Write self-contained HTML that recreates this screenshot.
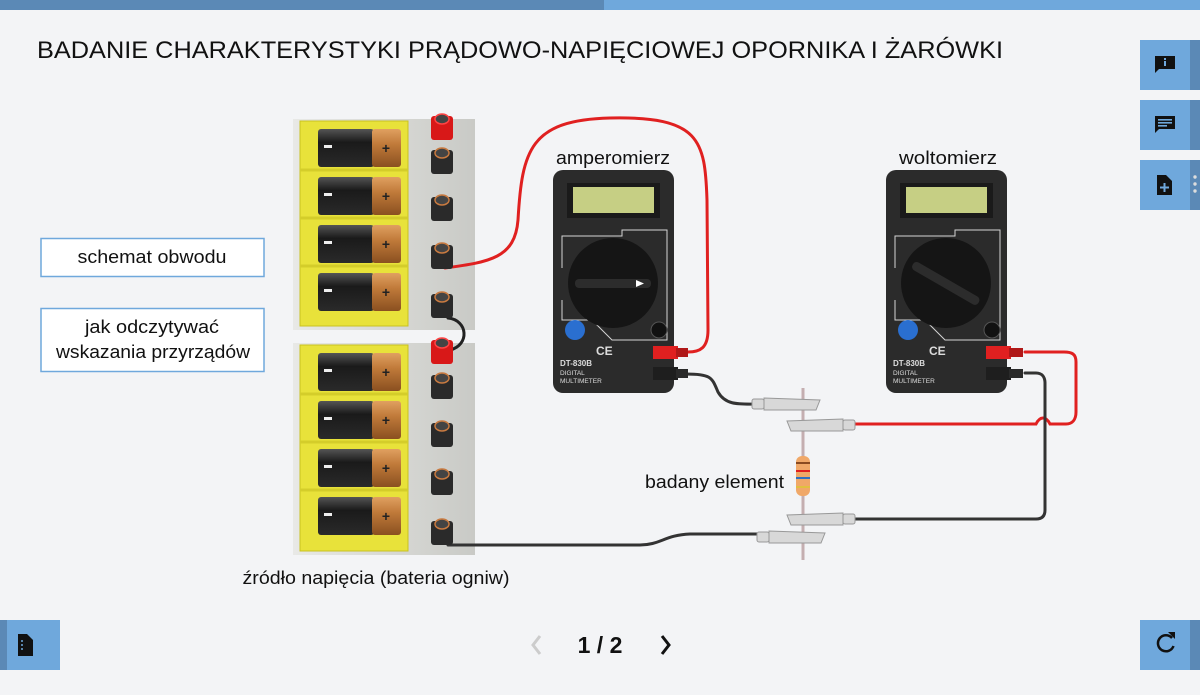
<!DOCTYPE html>
<html><head><meta charset="utf-8"><style>
body{margin:0;width:1200px;height:690px;background:#f3f4f6;overflow:hidden;font-family:"Liberation Sans",sans-serif}
</style></head><body>
<svg width="1200" height="690" viewBox="0 0 1200 690" xmlns="http://www.w3.org/2000/svg" font-family="Liberation Sans, sans-serif">
<defs>
<linearGradient id="bat" x1="0" y1="0" x2="0" y2="1"><stop offset="0" stop-color="#555"/><stop offset=".35" stop-color="#1a1a1a"/><stop offset="1" stop-color="#2a2a2a"/></linearGradient>
<linearGradient id="cop" x1="0" y1="0" x2="0" y2="1"><stop offset="0" stop-color="#e0a060"/><stop offset=".4" stop-color="#c07a3a"/><stop offset="1" stop-color="#8a5020"/></linearGradient>
<linearGradient id="pan" x1="0" y1="0" x2="1" y2="0"><stop offset="0" stop-color="#e8e9e6"/><stop offset="1" stop-color="#c9cac6"/></linearGradient>
</defs>
<rect x="0" y="0" width="604" height="10" fill="#5b89b6"/>
<rect x="604" y="0" width="596" height="10" fill="#6fa8dc"/>
<text x="37" y="58" font-size="24" fill="#111" textLength="966" lengthAdjust="spacingAndGlyphs">BADANIE CHARAKTERYSTYKI PRĄDOWO-NAPIĘCIOWEJ OPORNIKA I ŻARÓWKI</text>

<!-- side buttons -->
<g><rect x="1140" y="40" width="50" height="50" fill="#6fa8dc"/><rect x="1190" y="40" width="10" height="50" fill="#5b89b6"/>
<path d="M1155 56h20v13h-16l-4 4z" fill="#111"/><rect x="1164" y="58" width="2" height="2" fill="#6fa8dc"/><rect x="1164" y="61" width="2" height="5" fill="#6fa8dc"/></g>
<g><rect x="1140" y="100" width="50" height="50" fill="#6fa8dc"/><rect x="1190" y="100" width="10" height="50" fill="#5b89b6"/>
<path d="M1155 116h20v13h-16l-4 4z" fill="#111"/><rect x="1158" y="119" width="14" height="1.6" fill="#6fa8dc"/><rect x="1158" y="122" width="14" height="1.6" fill="#6fa8dc"/><rect x="1158" y="125" width="9" height="1.6" fill="#6fa8dc"/></g>
<g><rect x="1140" y="160" width="50" height="50" fill="#6fa8dc"/><rect x="1190" y="160" width="10" height="50" fill="#5b89b6"/>
<path d="M1157 175h9l6 6v14h-15z" fill="#111"/><path d="M1164.5 183v9M1160 187.5h9" stroke="#6fa8dc" stroke-width="2"/>
<circle cx="1195" cy="177" r="1.7" fill="#ddd"/><circle cx="1195" cy="184" r="1.7" fill="#ddd"/><circle cx="1195" cy="191" r="1.7" fill="#ddd"/></g>
<g><rect x="0" y="620" width="60" height="50" fill="#6fa8dc"/><rect x="0" y="620" width="7" height="50" fill="#5b89b6"/>
<path d="M18 634h9l6 6v16h-15z" fill="#111"/><circle cx="22" cy="641" r="1" fill="#6fa8dc"/><circle cx="22" cy="645" r="1" fill="#6fa8dc"/><circle cx="22" cy="649" r="1" fill="#6fa8dc"/></g>
<g><rect x="1140" y="620" width="50" height="50" fill="#6fa8dc"/><rect x="1190" y="620" width="10" height="50" fill="#5b89b6"/>
<path d="M1172 638a8 8 0 1 0 1.5 8" fill="none" stroke="#111" stroke-width="2.5"/><path d="M1168 632h7v7z" fill="#111"/></g>

<text x="600" y="653" font-size="23" font-weight="bold" text-anchor="middle" fill="#111">1 / 2</text>
<path d="M540 636l-7 9 7 9" fill="none" stroke="#ccc" stroke-width="3"/>
<path d="M662 636l7 9-7 9" fill="none" stroke="#111" stroke-width="3"/>

<!-- buttons left -->
<rect x="41" y="238.5" width="223" height="38" fill="#fff" stroke="#6fa8dc" stroke-width="1.5"/>
<text x="152" y="263" font-size="18" text-anchor="middle" fill="#111" textLength="149" lengthAdjust="spacingAndGlyphs">schemat obwodu</text>
<rect x="41" y="308.5" width="223" height="63" fill="#fff" stroke="#6fa8dc" stroke-width="1.5"/>
<text x="152" y="333" font-size="18" text-anchor="middle" fill="#111" textLength="134" lengthAdjust="spacingAndGlyphs">jak odczytywać</text>
<text x="153" y="358" font-size="18" text-anchor="middle" fill="#111" textLength="194" lengthAdjust="spacingAndGlyphs">wskazania przyrządów</text>

<!-- battery panels -->
<rect x="293" y="119" width="182" height="211" fill="url(#pan)"/>
<rect x="293" y="343" width="182" height="212" fill="url(#pan)"/>
<g fill="#e8e23a" stroke="#c9c220" stroke-width="1">
<rect x="300" y="121" width="108" height="205"/><rect x="300" y="345" width="108" height="206"/>
</g>
<g stroke="#d4cd2a" stroke-width="3">
<path d="M300 170h108M300 218h108M300 266h108M300 394h108M300 442h108M300 490h108"/>
</g>
<!-- batteries -->
<g><rect x="318" y="129" width="56" height="38" rx="3" fill="url(#bat)"/><rect x="372" y="129" width="29" height="38" rx="3" fill="url(#cop)"/><rect x="324" y="145" width="8" height="3" fill="#eee"/><text x="386" y="153" font-size="14" font-weight="bold" fill="#222" text-anchor="middle">+</text></g>
<g transform="translate(0,48)"><rect x="318" y="129" width="56" height="38" rx="3" fill="url(#bat)"/><rect x="372" y="129" width="29" height="38" rx="3" fill="url(#cop)"/><rect x="324" y="145" width="8" height="3" fill="#eee"/><text x="386" y="153" font-size="14" font-weight="bold" fill="#222" text-anchor="middle">+</text></g>
<g transform="translate(0,96)"><rect x="318" y="129" width="56" height="38" rx="3" fill="url(#bat)"/><rect x="372" y="129" width="29" height="38" rx="3" fill="url(#cop)"/><rect x="324" y="145" width="8" height="3" fill="#eee"/><text x="386" y="153" font-size="14" font-weight="bold" fill="#222" text-anchor="middle">+</text></g>
<g transform="translate(0,144)"><rect x="318" y="129" width="56" height="38" rx="3" fill="url(#bat)"/><rect x="372" y="129" width="29" height="38" rx="3" fill="url(#cop)"/><rect x="324" y="145" width="8" height="3" fill="#eee"/><text x="386" y="153" font-size="14" font-weight="bold" fill="#222" text-anchor="middle">+</text></g>
<g transform="translate(0,224)"><rect x="318" y="129" width="56" height="38" rx="3" fill="url(#bat)"/><rect x="372" y="129" width="29" height="38" rx="3" fill="url(#cop)"/><rect x="324" y="145" width="8" height="3" fill="#eee"/><text x="386" y="153" font-size="14" font-weight="bold" fill="#222" text-anchor="middle">+</text></g>
<g transform="translate(0,272)"><rect x="318" y="129" width="56" height="38" rx="3" fill="url(#bat)"/><rect x="372" y="129" width="29" height="38" rx="3" fill="url(#cop)"/><rect x="324" y="145" width="8" height="3" fill="#eee"/><text x="386" y="153" font-size="14" font-weight="bold" fill="#222" text-anchor="middle">+</text></g>
<g transform="translate(0,320)"><rect x="318" y="129" width="56" height="38" rx="3" fill="url(#bat)"/><rect x="372" y="129" width="29" height="38" rx="3" fill="url(#cop)"/><rect x="324" y="145" width="8" height="3" fill="#eee"/><text x="386" y="153" font-size="14" font-weight="bold" fill="#222" text-anchor="middle">+</text></g>
<g transform="translate(0,368)"><rect x="318" y="129" width="56" height="38" rx="3" fill="url(#bat)"/><rect x="372" y="129" width="29" height="38" rx="3" fill="url(#cop)"/><rect x="324" y="145" width="8" height="3" fill="#eee"/><text x="386" y="153" font-size="14" font-weight="bold" fill="#222" text-anchor="middle">+</text></g>

<!-- wires -->
<g fill="none" stroke-linecap="round">
<path d="M445 268 C490 262 515 258 518 220 C522 150 530 120 610 118 C700 116 705 140 707 200 L708 330 C708 348 700 352 688 352" stroke="#e02020" stroke-width="3"/>
<path d="M448 318 C468 320 470 345 450 350" stroke="#222" stroke-width="3"/>
<path d="M448 545 L640 545 C660 545 665 535 690 534 L760 534" stroke="#333" stroke-width="3"/>
<path d="M686 374 C712 374 712 378 718 392 C726 406 740 404 760 404" stroke="#333" stroke-width="3"/>
<path d="M855 424 L1036 424 C1040 416 1046 416 1050 424 L1066 424 C1072 424 1076 420 1076 412 L1076 362 C1076 354 1072 352 1064 352 L1025 352" stroke="#e02020" stroke-width="3"/>
<path d="M1025 373 L1036 373 C1042 373 1045 377 1045 383 L1045 510 C1045 516 1042 519 1036 519 L855 519" stroke="#333" stroke-width="3"/>
</g>

<!-- terminals -->
<g>
<rect x="431" y="116" width="22" height="24" rx="3" fill="#d81818"/><ellipse cx="442" cy="119" rx="7" ry="5" fill="#444" stroke="#f44" stroke-width="1.5"/>
<rect x="431" y="150" width="22" height="24" rx="3" fill="#2a2a2a"/><ellipse cx="442" cy="153" rx="7" ry="5" fill="#444" stroke="#c87a40" stroke-width="1.5"/>
<rect x="431" y="197" width="22" height="24" rx="3" fill="#2a2a2a"/><ellipse cx="442" cy="200" rx="7" ry="5" fill="#444" stroke="#c87a40" stroke-width="1.5"/>
<rect x="431" y="245" width="22" height="24" rx="3" fill="#2a2a2a"/><ellipse cx="442" cy="248" rx="7" ry="5" fill="#444" stroke="#c87a40" stroke-width="1.5"/>
<rect x="431" y="294" width="22" height="24" rx="3" fill="#2a2a2a"/><ellipse cx="442" cy="297" rx="7" ry="5" fill="#444" stroke="#c87a40" stroke-width="1.5"/>
<rect x="431" y="340" width="22" height="24" rx="3" fill="#d81818"/><ellipse cx="442" cy="343" rx="7" ry="5" fill="#444" stroke="#f44" stroke-width="1.5"/>
<rect x="431" y="375" width="22" height="24" rx="3" fill="#2a2a2a"/><ellipse cx="442" cy="378" rx="7" ry="5" fill="#444" stroke="#c87a40" stroke-width="1.5"/>
<rect x="431" y="423" width="22" height="24" rx="3" fill="#2a2a2a"/><ellipse cx="442" cy="426" rx="7" ry="5" fill="#444" stroke="#c87a40" stroke-width="1.5"/>
<rect x="431" y="471" width="22" height="24" rx="3" fill="#2a2a2a"/><ellipse cx="442" cy="474" rx="7" ry="5" fill="#444" stroke="#c87a40" stroke-width="1.5"/>
<rect x="431" y="521" width="22" height="24" rx="3" fill="#2a2a2a"/><ellipse cx="442" cy="524" rx="7" ry="5" fill="#444" stroke="#c87a40" stroke-width="1.5"/>
</g>

<!-- multimeter 1 -->
<g>
<rect x="553" y="170" width="121" height="223" rx="10" fill="#2b2b2b"/>
<rect x="567" y="183" width="93" height="35" fill="#1a1a1a"/><rect x="573" y="187" width="81" height="26" fill="#c6cf84"/>
<path d="M562 268V236h60v-6h45v55M562 300v20h30l20 20h55v-60" fill="none" stroke="#fff" stroke-width="1" opacity=".8"/>
<circle cx="613" cy="283" r="45" fill="#151515"/><rect x="575" y="279" width="76" height="9" rx="4" fill="#2c2c2c"/><path d="M636 280l8 3.5-8 3.5z" fill="#fff"/>
<circle cx="575" cy="330" r="10" fill="#2a6fd0"/><circle cx="659" cy="330" r="8" fill="#111" stroke="#555"/>
<text x="560" y="366" font-size="8" font-weight="bold" fill="#ddd">DT-830B</text>
<text x="560" y="375" font-size="6.5" fill="#ddd">DIGITAL</text><text x="560" y="383" font-size="6.5" fill="#ddd">MULTIMETER</text>
<text x="596" y="355" font-size="12" font-weight="bold" fill="#ddd">CE</text>
</g>
<rect x="653" y="346" width="25" height="13" fill="#e02020"/><rect x="676" y="348" width="12" height="9" fill="#b01818"/>
<rect x="653" y="367" width="25" height="13" fill="#1e1e1e"/><rect x="676" y="369" width="12" height="9" fill="#2a2a2a"/>
<!-- multimeter 2 -->
<g>
<rect x="886" y="170" width="121" height="223" rx="10" fill="#2b2b2b"/>
<rect x="900" y="183" width="93" height="35" fill="#1a1a1a"/><rect x="906" y="187" width="81" height="26" fill="#c6cf84"/>
<path d="M895 268V236h60v-6h45v55M895 300v20h30l20 20h55v-60" fill="none" stroke="#fff" stroke-width="1" opacity=".8"/>
<circle cx="946" cy="283" r="45" fill="#151515"/><rect x="908" y="279" width="76" height="9" rx="4" fill="#2c2c2c" transform="rotate(30 946 283)"/>
<circle cx="908" cy="330" r="10" fill="#2a6fd0"/><circle cx="992" cy="330" r="8" fill="#111" stroke="#555"/>
<text x="893" y="366" font-size="8" font-weight="bold" fill="#ddd">DT-830B</text>
<text x="893" y="375" font-size="6.5" fill="#ddd">DIGITAL</text><text x="893" y="383" font-size="6.5" fill="#ddd">MULTIMETER</text>
<text x="929" y="355" font-size="12" font-weight="bold" fill="#ddd">CE</text>
</g>
<rect x="986" y="346" width="25" height="13" fill="#e02020"/><rect x="1009" y="348" width="14" height="9" fill="#b01818"/>
<rect x="986" y="367" width="25" height="13" fill="#1e1e1e"/><rect x="1009" y="369" width="14" height="9" fill="#2a2a2a"/>

<text x="613" y="164" font-size="18" text-anchor="middle" fill="#111" textLength="114" lengthAdjust="spacingAndGlyphs">amperomierz</text>
<text x="948" y="164" font-size="18" text-anchor="middle" fill="#111" textLength="98" lengthAdjust="spacingAndGlyphs">woltomierz</text>

<!-- resistor and clips -->
<line x1="803" y1="388" x2="803" y2="560" stroke="#c4aeb0" stroke-width="3"/>
<rect x="796" y="456" width="14" height="40" rx="6" fill="#f0a868"/>
<rect x="796" y="462" width="14" height="2" fill="#8a4a20"/><rect x="796" y="470" width="14" height="2" fill="#e02020"/><rect x="796" y="477" width="14" height="2" fill="#3070c0"/><rect x="796" y="486" width="14" height="2" fill="#e0c040"/>
<g fill="#d8d8d8" stroke="#999" stroke-width="1">
<rect x="752" y="399" width="12" height="10" rx="2"/><path d="M764 398l56 2 -4 10h-52z"/>
<rect x="843" y="420" width="12" height="10" rx="2"/><path d="M843 419l-56 2 4 10h52z"/>
<rect x="843" y="514" width="12" height="10" rx="2"/><path d="M843 513l-56 2 4 10h52z"/>
<rect x="757" y="532" width="12" height="10" rx="2"/><path d="M769 531l56 2 -4 10h-52z"/>
</g>
<text x="784" y="488" font-size="18" text-anchor="end" fill="#111" textLength="139" lengthAdjust="spacingAndGlyphs">badany element</text>
<text x="376" y="584" font-size="18" text-anchor="middle" fill="#111" textLength="267" lengthAdjust="spacingAndGlyphs">źródło napięcia (bateria ogniw)</text>
</svg>
</body></html>
